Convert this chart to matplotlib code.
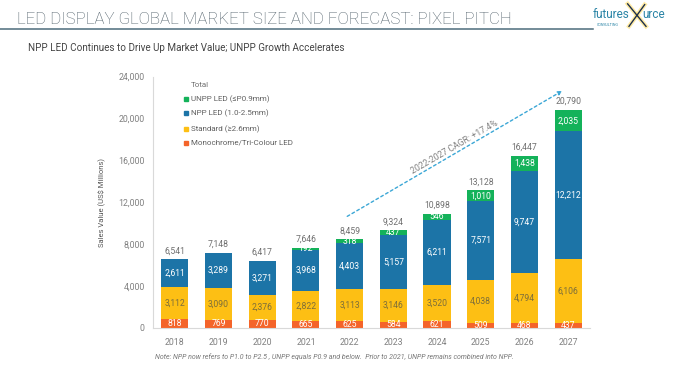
import matplotlib.pyplot as plt
import numpy as np

plt.rcParams['font.family'] = ['Roboto', 'DejaVu Sans']

years = ['2018', '2019', '2020', '2021', '2022', '2023', '2024', '2025', '2026', '2027']
mono = [818, 769, 770, 665, 625, 584, 621, 509, 468, 437]
standard = [3112, 3090, 2376, 2822, 3113, 3146, 3520, 4038, 4794, 6106]
npp = [2611, 3289, 3271, 3968, 4403, 5157, 6211, 7571, 9747, 12212]
unpp = [0, 0, 0, 192, 318, 437, 546, 1010, 1438, 2035]
totals = [6541, 7148, 6417, 7646, 8459, 9324, 10898, 13128, 16447, 20790]

series = [('Monochrome/Tri-Colour LED', mono, '#F4642A', 'white'),
          ('Standard (\u22652.6mm)', standard, '#FDBF14', '#7d6e3a'),
          ('NPP LED (1.0-2.5mm)', npp, '#1C74A7', 'white'),
          ('UNPP LED (\u2264P0.9mm)', unpp, '#14B25A', 'white')]

fig = plt.figure(figsize=(6.8, 3.87), dpi=100)
ax = fig.add_axes([0.225, 0.1525, 0.6426, 0.6498])

x = np.arange(len(years))
bottom = np.zeros(len(years))
for name, vals, col, tcol in series:
    vals = np.array(vals, dtype=float)
    ax.bar(x, vals, 0.62, bottom=bottom, color=col, edgecolor='none')
    for i, v in enumerate(vals):
        if v > 0:
            ax.text(x[i], bottom[i] + v / 2, f'{int(v):,}', ha='center', va='center',
                    fontsize=6.2, color=tcol)
    bottom += vals

for i, t in enumerate(totals):
    ax.text(x[i], bottom[i] + 380, f'{t:,}', ha='center', va='bottom', fontsize=6.2, color='#707070')

ax.set_xlim(-0.5, 9.5)
ax.set_ylim(0, 24000)
ax.set_xticks(x)
ax.set_xticklabels(years)
ax.set_yticks(range(0, 24001, 4000))
ax.set_yticklabels([f'{v:,}' for v in range(0, 24001, 4000)])
ax.tick_params(length=0, labelsize=6.3, colors='#808080')
ax.tick_params(axis='x', pad=7)
ax.tick_params(axis='y', pad=6)
for s in ['top', 'right']:
    ax.spines[s].set_visible(False)
for s in ['left', 'bottom']:
    ax.spines[s].set_color('#d9d9d9')
    ax.spines[s].set_linewidth(0.8)
ax.set_ylabel('Sales Value (US$ Millions)', fontsize=5.5, color='#555555')
ax.yaxis.set_label_coords(-0.108, 0.5)

# CAGR arrow
ax.annotate('', xy=(8.92, 22760), xytext=(3.89, 10520),
            arrowprops=dict(arrowstyle='-|>', linestyle=(0, (2, 2)), color='#3BA7D6', lw=1.0,
                            mutation_scale=6))
ax.text(6.41, 17300, '2022-2027 CAGR: +17.4%', rotation=30, ha='center', va='center',
        fontsize=6.3, color='#808080', rotation_mode='anchor')

# legend
fig.text(0.281, 0.78, 'Total', fontsize=5.8, color='#707070', va='center')
ly = [0.744, 0.708, 0.667, 0.631]
for (name, vals, col, tcol), yy in zip(series[::-1], ly):
    fig.patches.append(plt.Rectangle((0.2705, yy - 0.0058), 0.0066, 0.0116, color=col,
                                     transform=fig.transFigure))
    fig.text(0.281, yy, name, fontsize=5.8, color='#606060', va='center')

# header
fig.text(0.025, 0.938, 'LED DISPLAY GLOBAL MARKET SIZE AND FORECAST: PIXEL PITCH', fontsize=12.2,
         color='#51606a', va='baseline', fontweight='light')
fig.add_artist(plt.Line2D([0, 0.872], [0.926, 0.926], color='#4d6c7c', lw=1.1))
fig.text(0.041, 0.868, 'NPP LED Continues to Drive Up Market Value; UNPP Growth Accelerates',
         fontsize=7.1, color='#444444', va='baseline')

# logo
fig.text(0.925, 0.953, 'futures', fontsize=8.5, color='#2a84a6', va='baseline', ha='right')
fig.text(0.944, 0.953, 'urce', fontsize=8.5, color='#2a84a6', va='baseline', ha='left')
fig.add_artist(plt.Line2D([0.923, 0.950], [0.99, 0.932], color='#ffd84a', lw=3, alpha=0.5))
fig.add_artist(plt.Line2D([0.925, 0.948], [0.932, 0.988], color='#ffd84a', lw=3, alpha=0.5))
fig.add_artist(plt.Line2D([0.923, 0.950], [0.99, 0.932], color='#1d2f4e', lw=1.0))
fig.add_artist(plt.Line2D([0.925, 0.948], [0.932, 0.988], color='#1d2f4e', lw=1.0))
fig.text(0.878, 0.933, 'CONSULTING', fontsize=2.6, color='#2a84a6', va='baseline')

fig.text(0.228, 0.078, 'Note: NPP now refers to P1.0 to P2.5 , UNPP equals P0.9 and below.  Prior to 2021, '
         'UNPP remains combined into NPP.', fontsize=5, color='#777777', style='italic', va='center')

fig.savefig('out.png', dpi=100)
